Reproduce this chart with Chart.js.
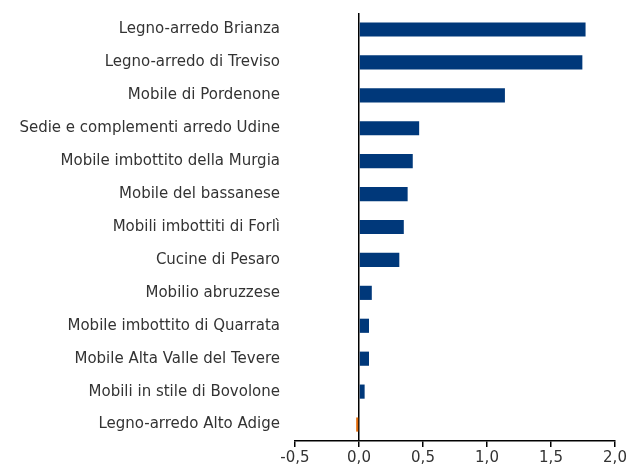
<!DOCTYPE html>
<html>
<head>
<meta charset="utf-8">
<script src="https://cdn.jsdelivr.net/npm/chart.js@4/dist/chart.umd.min.js"></script>
<style>
    html, body { margin: 0; padding: 0; background: #fff; }
    #wrap { width: 633px; height: 467px; position: relative; }
</style>
</head>
<body>
<div id="wrap"><canvas id="myChart"></canvas></div>
<script>
const districts = [
    "Legno-arredo Brianza",
    "Legno-arredo di Treviso",
    "Mobile di Pordenone",
    "Sedie e complementi arredo Udine",
    "Mobile imbottito della Murgia",
    "Mobile del bassanese",
    "Mobili imbottiti di Forlì",
    "Cucine di Pesaro",
    "Mobilio abruzzese",
    "Mobile imbottito di Quarrata",
    "Mobile Alta Valle del Tevere",
    "Mobili in stile di Bovolone",
    "Legno-arredo Alto Adige",
]
const values = [1.77, 1.745, 1.14, 0.47, 0.42, 0.38, 0.35, 0.315, 0.10, 0.078, 0.078, 0.044, -0.022]
const xTicks = [-0.5, 0, 0.5, 1, 1.5, 2]

const ctx = document.getElementById("myChart").getContext("2d")

const colors = values.map((v) => v < 0 ? "#E46C0A" : "#00387A")

const config = {
    type: "bar",
    data: {
        labels: districts,
        datasets: [{
            data: values,
            backgroundColor: colors,
            borderWidth: 0,
            barPercentage: 0.43,
            categoryPercentage: 1,
        }],
    },
    options: {
        indexAxis: "y",
        responsive: true,
        maintainAspectRatio: false,
        animation: false,
        layout: {
            padding: { top: 13, right: 18, bottom: 0, left: 0 }
        },
        plugins: {
            legend: { display: false },
            tooltip: { enabled: false },
        },
        scales: {
            x: {
                min: -0.5,
                max: 2,
                afterBuildTicks: (scale) => {
                    scale.ticks = xTicks.map((v) => ({ value: v }))
                },
                afterFit: (scale) => { scale.height = 26 },
                ticks: {
                    color: "#333",
                    font: { family: "DejaVu Sans", size: 15 },
                    padding: 2,
                    maxRotation: 0,
                    callback: (v) => Number(v).toFixed(1).replace(".", ","),
                },
                grid: {
                    color: (c) => c.tick && c.tick.value === 0 ? "#000" : "rgba(0,0,0,0)",
                    lineWidth: 1.5,
                    tickColor: "#000",
                    tickLength: 6,
                    drawOnChartArea: true,
                },
                border: { display: true, color: "#000", width: 1.5 },
            },
            y: {
                afterFit: (scale) => {
                    scale.width = 295
                    scale.paddingTop = 0
                    scale.paddingBottom = 0
                },
                ticks: {
                    color: "#333",
                    font: { family: "DejaVu Sans", size: 15 },
                    padding: 7,
                },
                grid: { display: false },
                border: { display: false },
            },
        },
    },
}

const myChart = new Chart(ctx, config)
</script>
</body>
</html>
